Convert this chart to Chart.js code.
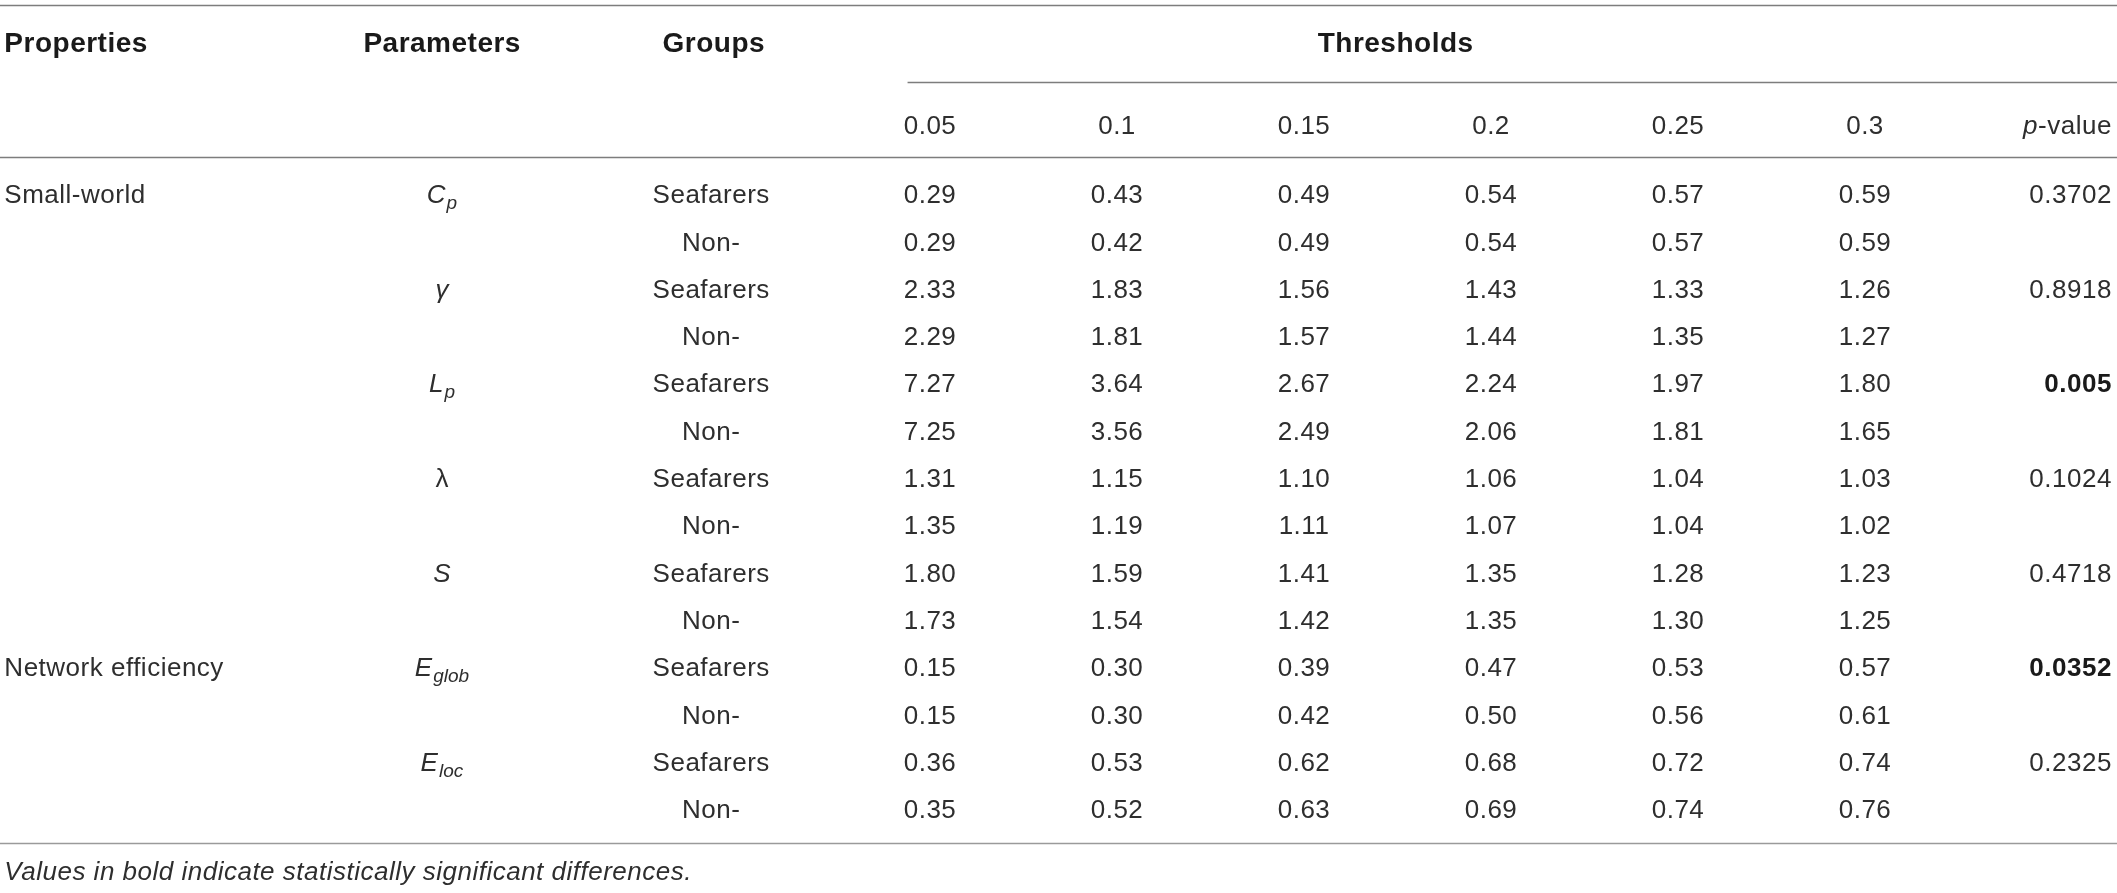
<!DOCTYPE html>
<html>
<head>
<meta charset="utf-8">
<title>Small-world and network efficiency by threshold</title>
<script src="https://cdn.jsdelivr.net/npm/chart.js@4.4.1/dist/chart.umd.min.js"></script>
<style>
  html, body { margin: 0; padding: 0; background: #ffffff; }
  #wrap { position: relative; width: 2117px; height: 893px; }
</style>
</head>
<body>
<div id="wrap"><canvas id="tableChart"></canvas></div>
<script>
// ---- table data ----
const headers = ["Properties", "Parameters", "Groups", "Thresholds"];
const thresholds = ["0.05", "0.1", "0.15", "0.2", "0.25", "0.3"];
const properties = ["Small-world", "Network efficiency"];
const propertyFirstParam = [0, 5];
const paramNames = ["C", "γ", "L", "λ", "S", "E", "E"];
const paramSubs = ["p", "", "p", "", "", "glob", "loc"];
const paramItalic = [true, true, true, false, true, true, true];
const groups = ["Seafarers", "Non-"];

const cpSeafarers = [0.29, 0.43, 0.49, 0.54, 0.57, 0.59];
const cpNon = [0.29, 0.42, 0.49, 0.54, 0.57, 0.59];
const gammaSeafarers = [2.33, 1.83, 1.56, 1.43, 1.33, 1.26];
const gammaNon = [2.29, 1.81, 1.57, 1.44, 1.35, 1.27];
const lpSeafarers = [7.27, 3.64, 2.67, 2.24, 1.97, 1.80];
const lpNon = [7.25, 3.56, 2.49, 2.06, 1.81, 1.65];
const lambdaSeafarers = [1.31, 1.15, 1.10, 1.06, 1.04, 1.03];
const lambdaNon = [1.35, 1.19, 1.11, 1.07, 1.04, 1.02];
const sSeafarers = [1.80, 1.59, 1.41, 1.35, 1.28, 1.23];
const sNon = [1.73, 1.54, 1.42, 1.35, 1.30, 1.25];
const eglobSeafarers = [0.15, 0.30, 0.39, 0.47, 0.53, 0.57];
const eglobNon = [0.15, 0.30, 0.42, 0.50, 0.56, 0.61];
const elocSeafarers = [0.36, 0.53, 0.62, 0.68, 0.72, 0.74];
const elocNon = [0.35, 0.52, 0.63, 0.69, 0.74, 0.76];

const pValues = ["0.3702", "0.8918", "0.005", "0.1024", "0.4718", "0.0352", "0.2325"];
const significant = [false, false, true, false, false, true, false];
const footnote = "Values in bold indicate statistically significant differences.";

const tableRows = [
  cpSeafarers, cpNon, gammaSeafarers, gammaNon, lpSeafarers, lpNon,
  lambdaSeafarers, lambdaNon, sSeafarers, sNon, eglobSeafarers, eglobNon,
  elocSeafarers, elocNon
];

// ---- layout (in scale units: x = threshold column, y = table row) ----
const COL = { prop: -4.95, paramHead: -3.03, param: -2.61, groupHead: -1.43, group: -1.17,
              threshRule: -0.12, threshHead: 2.49, pval: 6.32 };
const ROW = { topRule: -4.0, head: -3.22, threshRule: -2.37, threshVals: -1.47,
              headRule: -0.78, bottomRule: 13.72, note: 14.30 };

const FONT = '"Liberation Sans", Arial, Helvetica, sans-serif';
const BODY_SIZE = 26;
const HEAD_SIZE = 28;
const TEXT_COLOR = '#2e2e2e';
const HEAD_COLOR = '#1a1a1a';
const RULE_COLOR = '#7d7d7d';

const datasets = tableRows.map(function (values, r) {
  return {
    label: paramNames[Math.floor(r / 2)] + paramSubs[Math.floor(r / 2)] + ' ' + groups[r % 2],
    data: values.map(function (v, c) { return { x: c, y: r, v: v }; }),
    pointRadius: 0,
    showLine: false
  };
});

function font(size, weight, style) {
  return (style || 'normal') + ' ' + (weight || 'normal') + ' ' + size + 'px ' + FONT;
}

// draw text with its cap-height centred on y
function drawText(ctx, text, x, y, size, align, weight, style, color) {
  ctx.font = font(size, weight, style);
  ctx.fillStyle = color || TEXT_COLOR;
  ctx.textAlign = align;
  ctx.textBaseline = 'alphabetic';
  ctx.letterSpacing = '0.5px';
  ctx.fillText(text, x, y + size * 0.36);
  ctx.letterSpacing = '0px';
}

function drawParam(ctx, i, x, y) {
  const style = paramItalic[i] ? 'italic' : 'normal';
  const subSize = 19;
  ctx.font = font(BODY_SIZE, 'normal', style);
  const w1 = ctx.measureText(paramNames[i]).width;
  ctx.font = font(subSize, 'normal', 'italic');
  const w2 = paramSubs[i] ? ctx.measureText(paramSubs[i]).width + 1 : 0;
  const left = x - (w1 + w2) / 2;
  drawText(ctx, paramNames[i], left, y, BODY_SIZE, 'left', 'normal', style);
  if (paramSubs[i]) {
    ctx.font = font(subSize, 'normal', 'italic');
    ctx.fillStyle = TEXT_COLOR;
    ctx.textAlign = 'left';
    ctx.textBaseline = 'alphabetic';
    ctx.fillText(paramSubs[i], left + w1 + 1, y + BODY_SIZE * 0.36 + 6);
  }
}

const tableText = {
  id: 'tableText',
  afterDatasetsDraw(chart) {
    const ctx = chart.ctx;
    const xs = chart.scales.x;
    const ys = chart.scales.y;
    const X = function (v) { return xs.getPixelForValue(v); };
    const Y = function (v) { return ys.getPixelForValue(v); };
    ctx.save();

    // rules
    ctx.strokeStyle = RULE_COLOR;
    ctx.lineWidth = 1.6;
    function rule(x0, x1, y) {
      ctx.beginPath();
      ctx.moveTo(x0, Math.round(y) + 0.5);
      ctx.lineTo(x1, Math.round(y) + 0.5);
      ctx.stroke();
    }
    rule(xs.left, xs.right, Y(ROW.topRule));
    rule(X(COL.threshRule), xs.right, Y(ROW.threshRule));
    rule(xs.left, xs.right, Y(ROW.headRule));
    ctx.strokeStyle = '#9a9a9a';
    rule(xs.left, xs.right, Y(ROW.bottomRule));

    // header
    drawText(ctx, headers[0], X(COL.prop), Y(ROW.head), HEAD_SIZE, 'left', 'bold', 'normal', HEAD_COLOR);
    drawText(ctx, headers[1], X(COL.paramHead), Y(ROW.head), HEAD_SIZE, 'left', 'bold', 'normal', HEAD_COLOR);
    drawText(ctx, headers[2], X(COL.groupHead), Y(ROW.head), HEAD_SIZE, 'left', 'bold', 'normal', HEAD_COLOR);
    drawText(ctx, headers[3], X(COL.threshHead), Y(ROW.head), HEAD_SIZE, 'center', 'bold', 'normal', HEAD_COLOR);
    thresholds.forEach(function (t, c) {
      drawText(ctx, t, X(c), Y(ROW.threshVals), BODY_SIZE, 'center');
    });
    // p-value header: italic p + "-value", right aligned
    ctx.font = font(BODY_SIZE);
    ctx.letterSpacing = '0.5px';
    const wRest = ctx.measureText('-value').width;
    ctx.letterSpacing = '0px';
    drawText(ctx, '-value', X(COL.pval), Y(ROW.threshVals), BODY_SIZE, 'right');
    drawText(ctx, 'p', X(COL.pval) - wRest, Y(ROW.threshVals), BODY_SIZE, 'right', 'normal', 'italic');

    // property names
    properties.forEach(function (p, i) {
      drawText(ctx, p, X(COL.prop), Y(propertyFirstParam[i] * 2), BODY_SIZE, 'left');
    });

    // parameters, groups, p-values
    paramNames.forEach(function (n, i) {
      drawParam(ctx, i, X(COL.param), Y(i * 2));
      drawText(ctx, pValues[i], X(COL.pval), Y(i * 2), BODY_SIZE, 'right',
               significant[i] ? 'bold' : 'normal', 'normal', significant[i] ? HEAD_COLOR : TEXT_COLOR);
    });
    tableRows.forEach(function (row, r) {
      drawText(ctx, groups[r % 2], X(COL.group), Y(r), BODY_SIZE, 'center');
    });

    // threshold values, placed at each data point
    chart.data.datasets.forEach(function (ds, di) {
      const meta = chart.getDatasetMeta(di);
      meta.data.forEach(function (pt, k) {
        drawText(ctx, ds.data[k].v.toFixed(2), pt.x, pt.y, BODY_SIZE, 'center');
      });
    });

    // footnote
    drawText(ctx, footnote, X(COL.prop), Y(ROW.note), BODY_SIZE, 'left', 'normal', 'italic');
    ctx.restore();
  }
};

// x: one unit per threshold column (187 px), y: one unit per table row (47.3 px)
const X_MIN = -930 / 187;
const X_MAX = X_MIN + 2117 / 187;
const Y_MIN = -4.10;
const Y_MAX = Y_MIN + 893 / 47.3;

new Chart(document.getElementById('tableChart'), {
  type: 'scatter',
  data: { datasets: datasets },
  options: {
    responsive: true,
    maintainAspectRatio: false,
    animation: false,
    events: [],
    layout: { padding: 0 },
    plugins: { legend: { display: false }, tooltip: { enabled: false } },
    scales: {
      x: { type: 'linear', display: false, min: X_MIN, max: X_MAX },
      y: { type: 'linear', display: false, reverse: true, min: Y_MIN, max: Y_MAX }
    }
  },
  plugins: [tableText]
});
</script>
</body>
</html>
